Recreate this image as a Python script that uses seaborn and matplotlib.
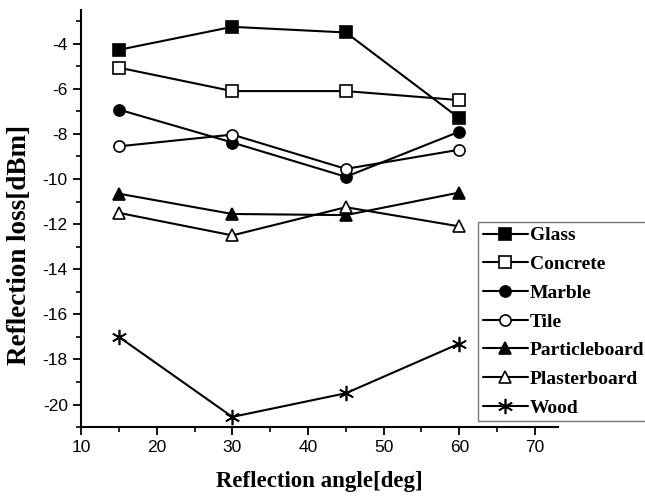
import numpy as np
import pandas as pd
import seaborn as sns
import matplotlib.pyplot as plt
from matplotlib.ticker import MultipleLocator

# dane
angles = [15, 30, 45, 60]
glass = [-4.27, -3.25, -3.5, -7.3]
concrete = [-5.06, -6.1, -6.1, -6.5]
marble = [-6.92, -8.38, -9.9, -7.9]
tile = [-8.55, -8.03, -9.55, -8.7]
particleboard = [-10.65, -11.55, -11.6, -10.6]
plasterboard = [-11.5, -12.5, -11.25, -12.1]
wood = [-17.0, -20.55, -19.5, -17.3]

materials = ['Glass', 'Concrete', 'Marble', 'Tile', 'Particleboard', 'Plasterboard', 'Wood']
values = [glass, concrete, marble, tile, particleboard, plasterboard, wood]
marker_map = {'Glass': 's', 'Concrete': 's', 'Marble': 'o', 'Tile': 'o',
              'Particleboard': '^', 'Plasterboard': '^', 'Wood': (6, 2, 0)}
filled = {'Glass': True, 'Concrete': False, 'Marble': True, 'Tile': False,
          'Particleboard': True, 'Plasterboard': False, 'Wood': True}

df = pd.DataFrame({
    'angle': np.tile(angles, len(materials)),
    'loss': np.concatenate(values),
    'material': np.repeat(materials, len(angles)),
})

sns.set_style('ticks')
plt.rcParams['axes.unicode_minus'] = False
plt.rcParams['font.family'] = ['Liberation Sans', 'DejaVu Sans']
plt.rcParams['text.color'] = 'black'
plt.rcParams['axes.labelcolor'] = 'black'
plt.rcParams['xtick.color'] = 'black'
plt.rcParams['ytick.color'] = 'black'

fig = plt.figure(figsize=(6.45, 4.96), dpi=100)
ax = fig.add_axes([0.1256, 0.139, 0.739, 0.841])

for m in materials:
    d = df[df['material'] == m]
    ms = 11 if m == 'Wood' else 8
    sns.lineplot(data=d, x='angle', y='loss', ax=ax, color='black', label=m,
                 marker=marker_map[m], markersize=ms, linewidth=1.5,
                 markerfacecolor='black' if filled[m] else 'white',
                 markeredgecolor='black', markeredgewidth=1.2)

ax.set_xlim(10, 73)
ax.set_ylim(-21, -2.5)
ax.xaxis.set_major_locator(MultipleLocator(10))
ax.xaxis.set_minor_locator(MultipleLocator(5))
ax.yaxis.set_major_locator(MultipleLocator(2))
ax.yaxis.set_minor_locator(MultipleLocator(1))
ax.tick_params(which='major', direction='out', length=6, width=1.3, labelsize=12.5,
               colors='black', labelcolor='black')
ax.tick_params(which='minor', direction='out', length=3.5, width=1.2, colors='black')

sns.despine(ax=ax)
for s in ['left', 'bottom']:
    ax.spines[s].set_linewidth(1.5)
    ax.spines[s].set_color('black')

ax.set_xlabel('Reflection angle[deg]', fontsize=16.5, fontweight='bold',
              family='Liberation Serif', color='black')
ax.set_ylabel('Reflection loss[dBm]', fontsize=19.5, fontweight='bold',
              family='Liberation Serif', color='black')
ax.xaxis.set_label_coords(0.5, -0.105)
ax.yaxis.set_label_coords(-0.102, 0.436)

leg = ax.legend(loc='upper left', bbox_to_anchor=(478 / 645, 1 - 222 / 496),
                bbox_transform=fig.transFigure, frameon=True, fancybox=False,
                edgecolor='#777777', framealpha=1, borderpad=0.25,
                labelspacing=0.57, handlelength=2.3, handletextpad=0.1,
                borderaxespad=0, labelcolor='black',
                prop={'family': 'Liberation Serif', 'weight': 'bold', 'size': 14})
leg.get_frame().set_linewidth(1.0)

fig.savefig('out.png', dpi=100)
